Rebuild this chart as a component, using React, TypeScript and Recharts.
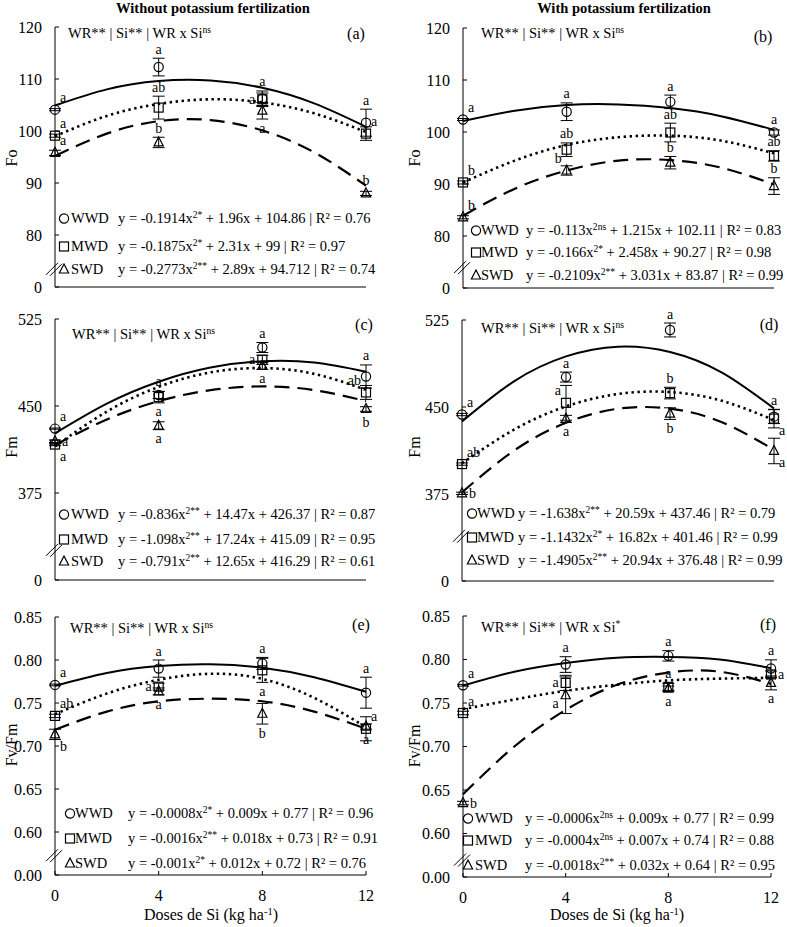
import React from 'react';
import { ComposedChart, Line, Scatter, XAxis, YAxis, ErrorBar, ReferenceDot } from 'recharts';

const FONT = '"Liberation Serif", "Times New Roman", Times, serif';

const doses = [0, 4, 8, 12];
const curveDoses = [0, 2, 4, 6, 8, 10, 12];
const doseTicks = [0, 4, 8, 12];
const regimes = ['WWD', 'MWD', 'SWD'];

// ---- (a) Fo, without K
const aWwdCurve = [104.9, 108.0, 109.6, 109.7, 108.3, 105.3, 100.8];
const aMwdCurve = [99.0, 102.9, 105.2, 106.1, 105.5, 103.4, 99.8];
const aSwdCurve = [95.2, 99.5, 101.9, 102.1, 100.1, 95.9, 89.5];
const aWwd = [104.1, 112.3, 106.2, 101.6];
const aMwd = [99.1, 104.5, 106.1, 99.5];
const aSwd = [95.8, 97.8, 103.9, 88.0];
const aWwdErr = [0.2, 1.7, 1.5, 2.6];
const aMwdErr = [0.3, 2.2, 1.2, 1.3];
const aSwdErr = [0.5, 1.0, 1.6, 0.4];
const aLetters = [['a', 'a', 'a', 'a'], ['a', 'ab', 'a', 'a'], ['a', 'b', 'a', 'b']];

// ---- (b) Fo, with K
const bWwdCurve = [102.1, 104.1, 105.2, 105.3, 104.6, 103.0, 100.4];
const bMwdCurve = [90.3, 94.5, 97.5, 99.0, 99.3, 98.3, 95.9];
const bSwdCurve = [83.9, 89.1, 92.6, 94.5, 94.6, 93.1, 89.9];
const bWwd = [102.4, 103.9, 105.8, 99.9];
const bMwd = [90.3, 96.6, 99.9, 95.4];
const bSwd = [83.6, 92.6, 94.1, 89.6];
const bWwdErr = [0.2, 1.7, 1.3, 0.5];
const bMwdErr = [0.3, 1.3, 1.8, 1.0];
const bSwdErr = [0.3, 0.9, 1.2, 1.6];
const bLetters = [['a', 'a', 'a', 'a'], ['b', 'ab', 'ab', 'ab'], ['b', 'b', 'b', 'b']];

// ---- (c) Fm, without K
const cWwdCurve = [426.4, 452.0, 470.9, 483.1, 488.6, 487.5, 479.6];
const cMwdCurve = [415.1, 445.2, 466.5, 479.0, 482.7, 477.7, 463.9];
const cSwdCurve = [416.3, 438.4, 454.2, 463.7, 466.9, 463.7, 454.2];
const cWwd = [430.5, 459.5, 500.4, 475.4];
const cMwd = [416.8, 457.7, 489.8, 461.7];
const cSwd = [419.6, 433.0, 484.6, 447.4];
const cWwdErr = [0.5, 3, 4.3, 10];
const cMwdErr = [1, 5, 4, 6];
const cSwdErr = [1, 3.4, 3, 2];
const cLetters = [['a', 'a', 'a', 'a'], ['a', 'a', 'a', 'ab'], ['a', 'a', 'a', 'b']];

// ---- (d) Fm, with K
const dWwdCurve = [437.5, 472.1, 493.6, 502.0, 497.4, 479.6, 448.7];
const dMwdCurve = [401.5, 430.5, 450.5, 461.2, 462.9, 455.3, 438.7];
const dSwdCurve = [376.5, 412.4, 436.4, 448.5, 448.6, 436.8, 413.1];
const dWwd = [443.5, 475.8, 516.4, 441.7];
const dMwd = [400.8, 453.6, 462.0, 440.0];
const dSwd = [375.6, 439.8, 444.3, 412.1];
const dWwdErr = [1, 4.3, 6, 6];
const dMwdErr = [1, 15, 5, 8];
const dSwdErr = [1, 3, 5, 11];
const dLetters = [['a', 'a', 'a', 'a'], ['ab', 'a', 'b', 'a'], ['b', 'a', 'b', 'a']];

// ---- (e) Fv/Fm, without K
const eWwdCurve = [0.770, 0.785, 0.793, 0.795, 0.791, 0.780, 0.763];
const eMwdCurve = [0.737, 0.761, 0.777, 0.784, 0.778, 0.756, 0.722];
const eSwdCurve = [0.719, 0.740, 0.752, 0.755, 0.752, 0.740, 0.720];
const eWwd = [0.771, 0.790, 0.796, 0.762];
const eMwd = [0.735, 0.769, 0.788, 0.720];
const eSwd = [0.7135, 0.7635, 0.7375, 0.7226];
const eWwdErr = [0.001, 0.010, 0.007, 0.018];
const eMwdErr = [0.002, 0.004, 0.014, 0.014];
const eSwdErr = [0.006, 0.004, 0.012, 0.003];
const eLetters = [['a', 'a', 'a', 'a'], ['ab', 'a', 'a', 'a'], ['b', 'a', 'b', 'a']];

// ---- (f) Fv/Fm, with K
const fWwdCurve = [0.770, 0.786, 0.796, 0.802, 0.803, 0.800, 0.790];
const fMwdCurve = [0.743, 0.754, 0.764, 0.771, 0.776, 0.778, 0.779];
const fSwdCurve = [0.645, 0.700, 0.742, 0.771, 0.785, 0.786, 0.772];
const fWwd = [0.7704, 0.7942, 0.8042, 0.7896];
const fMwd = [0.7385, 0.7731, 0.7685, 0.7828];
const fSwd = [0.635, 0.7589, 0.7665, 0.7731];
const fWwdErr = [0.001, 0.009, 0.006, 0.01];
const fMwdErr = [0.002, 0.0087, 0.004, 0.004];
const fSwdErr = [0.002, 0.021, 0.003, 0.008];
const fLetters = [['a', 'a', 'a', 'a'], ['a', 'a', 'a', 'a'], ['b', 'a', 'a', 'a']];

// regression equations: [coef of x², significance, rest]
const aEq = [['-0.1914', '2*', ' + 1.96x + 104.86 | R² = 0.76'], ['-0.1875', '2*', ' + 2.31x + 99 | R² = 0.97'], ['-0.2773', '2**', ' + 2.89x + 94.712 | R² = 0.74']];
const bEq = [['-0.113', '2ns', ' + 1.215x + 102.11 | R² = 0.83'], ['-0.166', '2*', ' + 2.458x + 90.27 | R² = 0.98'], ['-0.2109', '2**', ' + 3.031x + 83.87 | R² = 0.99']];
const cEq = [['-0.836', '2**', ' + 14.47x + 426.37 | R² = 0.87'], ['-1.098', '2**', ' + 17.24x + 415.09 | R² = 0.95'], ['-0.791', '2**', ' + 12.65x + 416.29 | R² = 0.61']];
const dEq = [['-1.638', '2**', ' + 20.59x + 437.46 | R² = 0.79'], ['-1.1432', '2*', ' + 16.82x + 401.46 | R² = 0.99'], ['-1.4905', '2**', ' + 20.94x + 376.48 | R² = 0.99']];
const eEq = [['-0.0008', '2*', ' + 0.009x + 0.77 | R² = 0.96'], ['-0.0016', '2**', ' + 0.018x + 0.73 | R² = 0.91'], ['-0.001', '2*', ' + 0.012x + 0.72 | R² = 0.76']];
const fEq = [['-0.0006', '2ns', ' + 0.009x + 0.77 | R² = 0.99'], ['-0.0004', '2ns', ' + 0.007x + 0.74 | R² = 0.88'], ['-0.0018', '2**', ' + 0.032x + 0.64 | R² = 0.95']];

const foTicks = [70, 80, 90, 100, 110, 120];
const fmTicks = [300, 375, 450, 525];
const fvTicks = [0.55, 0.6, 0.65, 0.7, 0.75, 0.8, 0.85];

const fmtFo = (v: number) => (v === 70 ? '0' : String(v));
const fmtFm = (v: number) => (v === 300 ? '0' : String(v));
const fmtFv = (v: number) => (v < 0.56 ? '0.00' : v.toFixed(2));

// where each letter sits next to its mean (t/b/l/r/tr/tl/br/bl)
const aSpots = [['tr', 't', 't', 't'], ['tr', 't', 'l', 'tr'], ['tr', 't', 'b', 't']];
const bSpots = [['tr', 't', 't', 't'], ['tr', 't', 't', 't'], ['tr', 'tl', 't', 't']];
const cSpots = [['tr', 't', 't', 't'], ['br', 'b', 'l', 'tl'], ['r', 'b', 'b', 'b']];
const dSpots = [['tr', 't', 't', 't'], ['tr', 'tl', 't', 'br'], ['r', 'b', 'b', 'br']];
const eSpots = [['tr', 't', 't', 't'], ['tr', 'l', 'b', 'tr'], ['br', 'b', 'b', 'b']];
const fSpots = [['tr', 't', 't', 't'], ['tr', 'l', 't', 'r'], ['r', 'bl', 'b', 'b']];

const kinds = ['circle', 'square', 'triangle'];
const lineStyles = [
  { strokeWidth: 2, dash: undefined },
  { strokeWidth: 2.6, dash: '2.4 3.6' },
  { strokeWidth: 2.2, dash: '15 8' },
];

type PanelDef = {
  curves: number[][];
  means: number[][];
  errs: number[][];
  letters: string[][];
  spots: string[][];
  eqs: string[][];
  domain: [number, number];
  ticks: number[];
  fmt: (v: number) => string;
  breakAt: number;
  showX: boolean;
  left: number; top: number; w: number; h: number;
  tag: string; tagX: number; tagY: number;
  sig: string; sigX: number; sigY: number;
  symX: number; nameX: number; eqX: number; rows: number[];
  yLabel: string; yLabelX: number; yLabelY: number;
};

const panels: PanelDef[] = [
  {
    curves: [aWwdCurve, aMwdCurve, aSwdCurve], means: [aWwd, aMwd, aSwd], errs: [aWwdErr, aMwdErr, aSwdErr],
    letters: aLetters, spots: aSpots, eqs: aEq, domain: [70, 120], ticks: foTicks, fmt: fmtFo, breakAt: 73.5, showX: false,
    left: 55, top: 27, w: 311, h: 260, tag: '(a)', tagX: 356, tagY: 34, sig: 'ns', sigX: 68, sigY: 33,
    symX: 64, nameX: 71, eqX: 118, rows: [218, 246, 269], yLabel: 'Fo', yLabelX: 12, yLabelY: 158,
  },
  {
    curves: [bWwdCurve, bMwdCurve, bSwdCurve], means: [bWwd, bMwd, bSwd], errs: [bWwdErr, bMwdErr, bSwdErr],
    letters: bLetters, spots: bSpots, eqs: bEq, domain: [70, 120], ticks: foTicks, fmt: fmtFo, breakAt: 74, showX: false,
    left: 463, top: 28, w: 311, h: 260, tag: '(b)', tagX: 763, tagY: 37, sig: 'ns', sigX: 481, sigY: 33,
    symX: 476, nameX: 481, eqX: 526, rows: [230, 252, 275], yLabel: 'Fo', yLabelX: 415, yLabelY: 158,
  },
  {
    curves: [cWwdCurve, cMwdCurve, cSwdCurve], means: [cWwd, cMwd, cSwd], errs: [cWwdErr, cMwdErr, cSwdErr],
    letters: cLetters, spots: cSpots, eqs: cEq, domain: [300, 525], ticks: fmTicks, fmt: fmtFm, breakAt: 326, showX: false,
    left: 55, top: 319, w: 311, h: 261, tag: '(c)', tagX: 364, tagY: 325, sig: 'ns', sigX: 72, sigY: 334,
    symX: 64, nameX: 71, eqX: 118, rows: [514, 539, 561], yLabel: 'Fm', yLabelX: 12, yLabelY: 447,
  },
  {
    curves: [dWwdCurve, dMwdCurve, dSwdCurve], means: [dWwd, dMwd, dSwd], errs: [dWwdErr, dMwdErr, dSwdErr],
    letters: dLetters, spots: dSpots, eqs: dEq, domain: [300, 525], ticks: fmTicks, fmt: fmtFm, breakAt: 339, showX: false,
    left: 462, top: 320, w: 312, h: 261, tag: '(d)', tagX: 769, tagY: 325, sig: 'ns', sigX: 481, sigY: 328,
    symX: 472, nameX: 477, eqX: 518, rows: [513, 537, 560], yLabel: 'Fm', yLabelX: 415, yLabelY: 447,
  },
  {
    curves: [eWwdCurve, eMwdCurve, eSwdCurve], means: [eWwd, eMwd, eSwd], errs: [eWwdErr, eMwdErr, eSwdErr],
    letters: eLetters, spots: eSpots, eqs: eEq, domain: [0.55, 0.85], ticks: fvTicks, fmt: fmtFv, breakAt: 0.573, showX: true,
    left: 55, top: 617, w: 311, h: 258, tag: '(e)', tagX: 361, tagY: 625, sig: 'ns', sigX: 70, sigY: 628,
    symX: 70, nameX: 75, eqX: 128, rows: [813, 838, 863], yLabel: 'Fv/Fm', yLabelX: 12, yLabelY: 745,
  },
  {
    curves: [fWwdCurve, fMwdCurve, fSwdCurve], means: [fWwd, fMwd, fSwd], errs: [fWwdErr, fMwdErr, fSwdErr],
    letters: fLetters, spots: fSpots, eqs: fEq, domain: [0.55, 0.85], ticks: fvTicks, fmt: fmtFv, breakAt: 0.57, showX: true,
    left: 463, top: 616, w: 308, h: 261, tag: '(f)', tagX: 768, tagY: 625, sig: '*', sigX: 481, sigY: 627,
    symX: 468, nameX: 475, eqX: 525, rows: [818, 840, 865], yLabel: 'Fv/Fm', yLabelX: 415, yLabelY: 746,
  },
];

function Marker({ kind, cx, cy }: { kind: string; cx: number; cy: number }) {
  const s = { fill: 'none', stroke: '#000', strokeWidth: 1.2 };
  if (kind === 'circle') return <circle cx={cx} cy={cy} r={4.6} {...s} />;
  if (kind === 'square') return <rect x={cx - 4.5} y={cy - 4.5} width={9} height={9} {...s} />;
  return <polygon points={`${cx},${cy - 5.5} ${cx + 4.6},${cy + 3.5} ${cx - 4.6},${cy + 3.5}`} {...s} />;
}

function letterPlace(spot: string, ePx: number): [number, number, 'start' | 'middle' | 'end'] {
  const v = Math.max(ePx, 4) + 9;
  switch (spot) {
    case 't': return [0, -v, 'middle'];
    case 'b': return [0, v, 'middle'];
    case 'l': return [-7, 0, 'end'];
    case 'r': return [7, 0, 'start'];
    case 'tr': return [5, -12, 'start'];
    case 'tl': return [-5, -12, 'end'];
    case 'br': return [5, 12, 'start'];
    case 'bl': return [-7, 8, 'end'];
    default: return [0, -v, 'middle'];
  }
}

function Sup({ children }: { children: React.ReactNode }) {
  return <span style={{ fontSize: '0.66em', position: 'relative', top: '-0.5em' }}>{children}</span>;
}

const txt = (x: number, y: number, extra: React.CSSProperties = {}): React.CSSProperties => ({
  position: 'absolute', left: x, top: y, transform: 'translateY(-50%)', lineHeight: 1, whiteSpace: 'nowrap', ...extra,
});

function Panel({ p }: { p: PanelDef }) {
  const ML = 60, MT = 12, MR = 24, XH = 34;
  const width = ML + p.w + MR;
  const height = MT + p.h + XH;
  const pxPerUnit = p.h / (p.domain[1] - p.domain[0]);

  return (
    <>
      <div style={{ position: 'absolute', left: p.left - ML, top: p.top - MT }}>
        <ComposedChart width={width} height={height} margin={{ top: MT, right: MR, bottom: 0, left: 0 }}>
          <XAxis
            type="number" dataKey="x" domain={[0, 12]} ticks={doseTicks} height={XH}
            tickSize={-4} tickMargin={19} axisLine={{ stroke: '#000' }} tickLine={{ stroke: '#000' }}
            tick={p.showX ? { fill: '#000', fontSize: 16, fontFamily: FONT } : false}
          />
          <YAxis
            type="number" domain={p.domain} ticks={p.ticks} tickFormatter={p.fmt} width={ML} interval={0}
            tickSize={-4} tickMargin={17} axisLine={{ stroke: '#000' }} tickLine={{ stroke: '#000' }}
            tick={{ fill: '#000', fontSize: 16, fontFamily: FONT }}
          />
          {p.curves.map((c, i) => (
            <Line
              key={`c${i}`} data={curveDoses.map((x, j) => ({ x, y: c[j] }))} dataKey="y" type="natural"
              stroke="#000" strokeWidth={lineStyles[i].strokeWidth} strokeDasharray={lineStyles[i].dash}
              dot={false} activeDot={false} isAnimationActive={false}
            />
          ))}
          {p.means.map((m, i) => (
            <Scatter
              key={`m${i}`} name={regimes[i]} dataKey="y" isAnimationActive={false}
              data={doses.map((x, j) => ({ x, y: m[j], e: p.errs[i][j], letter: p.letters[i][j], spot: p.spots[i][j] }))}
              shape={(s: any) => {
                const [dx, dy, anchor] = letterPlace(s.payload.spot, s.payload.e * pxPerUnit);
                return (
                  <g>
                    <Marker kind={kinds[i]} cx={s.cx} cy={s.cy} />
                    <text x={s.cx + dx} y={s.cy + dy} textAnchor={anchor} dominantBaseline="central"
                      fontSize={14} fontFamily={FONT} fill="#000">{s.payload.letter}</text>
                  </g>
                );
              }}
            >
              <ErrorBar dataKey="e" direction="y" width={6} stroke="#000" strokeWidth={1} />
            </Scatter>
          ))}
          <ReferenceDot
            x={0} y={p.breakAt} r={0} ifOverflow="visible"
            shape={(s: any) => (
              <g stroke="#000" strokeWidth={1}>
                <line x1={s.cx - 9} y1={s.cy + 6} x2={s.cx + 3} y2={s.cy - 6} />
                <line x1={s.cx - 5} y1={s.cy + 7} x2={s.cx + 7} y2={s.cy - 5} />
              </g>
            )}
          />
        </ComposedChart>
      </div>

      <div style={txt(p.sigX, p.sigY, { fontSize: 14.5 })}>
        WR** | Si** | WR x Si<Sup>{p.sig}</Sup>
      </div>
      <div style={txt(p.tagX, p.tagY, { fontSize: 16, transform: 'translate(-50%, -50%)' })}>{p.tag}</div>
      <div style={txt(p.yLabelX, p.yLabelY, { fontSize: 16, transform: 'translate(-50%, -50%) rotate(-90deg)' })}>{p.yLabel}</div>
      {p.eqs.map((eq, i) => (
        <React.Fragment key={`eq${i}`}>
          <svg style={{ position: 'absolute', left: p.symX - 6, top: p.rows[i] - 6 }} width={12} height={12}>
            <Marker kind={kinds[i]} cx={6} cy={6.5} />
          </svg>
          <div style={txt(p.nameX, p.rows[i], { fontSize: 14.5 })}>{regimes[i]}</div>
          <div style={txt(p.eqX, p.rows[i], { fontSize: 14.5 })}>
            y = {eq[0]}x<Sup>{eq[1]}</Sup>{eq[2]}
          </div>
        </React.Fragment>
      ))}
    </>
  );
}

export default function App() {
  return (
    <div style={{ position: 'absolute', left: 0, top: 0, width: 787, height: 927, background: '#fff', fontFamily: FONT, color: '#000' }}>
      <div style={txt(213, 8, { fontSize: 14.5, fontWeight: 'bold', transform: 'translate(-50%, -50%)' })}>Without potassium fertilization</div>
      <div style={txt(624, 8, { fontSize: 14.5, fontWeight: 'bold', transform: 'translate(-50%, -50%)' })}>With potassium fertilization</div>
      {panels.map((p, i) => <Panel key={i} p={p} />)}
      <div style={txt(211, 915, { fontSize: 16, transform: 'translate(-50%, -50%)' })}>Doses de Si (kg ha<Sup>-1</Sup>)</div>
      <div style={txt(617, 915, { fontSize: 16, transform: 'translate(-50%, -50%)' })}>Doses de Si (kg ha<Sup>-1</Sup>)</div>
    </div>
  );
}
